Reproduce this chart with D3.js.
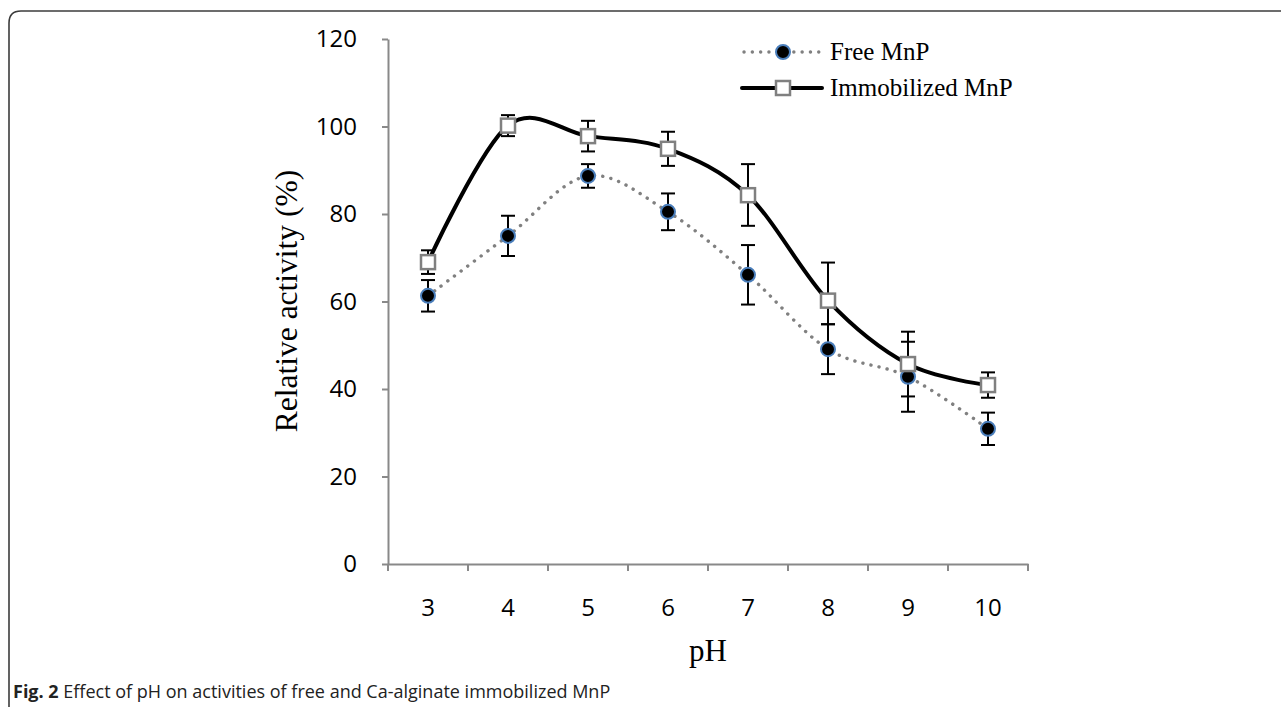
<!DOCTYPE html>
<html>
<head>
<meta charset="utf-8">
<script src="https://cdn.jsdelivr.net/npm/d3@7"></script>
<style>
  html, body { margin: 0; padding: 0; background: #fff; }
  svg { display: block; }
</style>
</head>
<body>
<svg id="chart" width="1281" height="707"></svg>
<script>
// ---- Data ----
const pHValues = [3, 4, 5, 6, 7, 8, 9, 10];
const freeActivity = [61.3, 75.0, 88.7, 80.5, 66.1, 49.1, 42.8, 30.9];
const freeError = [3.6, 4.6, 2.7, 4.2, 6.8, 5.7, 8.0, 3.7];
const immActivity = [69.0, 100.2, 97.8, 94.9, 84.3, 60.2, 45.7, 40.9];
const immErrorPlus = [2.7, 2.4, 3.5, 3.9, 7.1, 8.7, 7.4, 2.9];
const immErrorMinus = [2.7, 2.4, 3.5, 3.9, 7.0, 5.4, 7.4, 2.9];
const yTicks = [0, 20, 40, 60, 80, 100, 120];
const seriesNames = ["Free MnP", "Immobilized MnP"];
const yTitle = "Relative activity (%)";
const xTitle = "pH";
const captionBold = "Fig. 2";
const captionText = " Effect of pH on activities of free and Ca-alginate immobilized MnP";

// ---- Layout ----
const svg = d3.select("#chart");
const plot = { left: 388, right: 1028, top: 39, bottom: 564 };
const axisColor = "#898989";

const x = d3.scaleBand().domain(pHValues).range([plot.left, plot.right]).padding(0);
const y = d3.scaleLinear().domain([0, 120]).range([plot.bottom, plot.top]);
const cx = d => x(d) + x.bandwidth() / 2;

// Frame
svg.append("path")
  .attr("d", `M9,715 L9,23 Q9,11 21,11 L1290,11`)
  .attr("fill", "none").attr("stroke", "#3c3c3c").attr("stroke-width", 1.6);

// Y axis
const yAxis = svg.append("g")
  .attr("transform", `translate(${plot.left},0)`)
  .call(d3.axisLeft(y).tickValues(yTicks).tickSize(6).tickPadding(25).tickSizeOuter(0));
yAxis.select(".domain").attr("stroke", axisColor).attr("stroke-width", 2);
yAxis.selectAll(".tick line").attr("stroke", axisColor).attr("stroke-width", 2);
yAxis.selectAll(".tick text")
  .attr("font-family", "'Open Sans', sans-serif").attr("font-size", 24).attr("fill", "#000");

// X axis
const xAxis = svg.append("g")
  .attr("transform", `translate(0,${plot.bottom})`)
  .call(d3.axisBottom(x).tickSize(0).tickSizeOuter(0));
xAxis.select(".domain").attr("stroke", axisColor).attr("stroke-width", 2);
xAxis.selectAll(".tick text")
  .attr("y", 35).attr("dy", "0.71em")
  .attr("font-family", "'Open Sans', sans-serif").attr("font-size", 24).attr("fill", "#000");
// boundary ticks
const boundaries = pHValues.map(d => x(d)).concat([x.range()[1]]);
xAxis.selectAll("line.bt").data(boundaries).enter().append("line")
  .attr("class", "bt")
  .attr("x1", d => d).attr("x2", d => d).attr("y1", 0).attr("y2", 7)
  .attr("stroke", axisColor).attr("stroke-width", 2);

// Axis titles
svg.append("text")
  .attr("transform", `translate(297,301) rotate(-90)`)
  .attr("text-anchor", "middle")
  .attr("font-family", "'Liberation Serif', 'Times New Roman', serif")
  .attr("font-size", 31.5).attr("fill", "#000")
  .text(yTitle);
svg.append("text")
  .attr("x", (plot.left + plot.right) / 2).attr("y", 661)
  .attr("text-anchor", "middle")
  .attr("font-family", "'Liberation Serif', 'Times New Roman', serif")
  .attr("font-size", 31).attr("fill", "#000")
  .text(xTitle);

// Lines
const line = d3.line().curve(d3.curveCardinal.tension(0));
const immPts = pHValues.map((d, i) => [cx(d), y(immActivity[i])]);
const freePts = pHValues.map((d, i) => [cx(d), y(freeActivity[i])]);

svg.append("path").attr("d", line(immPts))
  .attr("fill", "none").attr("stroke", "#000").attr("stroke-width", 4);
svg.append("path").attr("d", line(freePts))
  .attr("fill", "none").attr("stroke", "#808080").attr("stroke-width", 3.4)
  .attr("stroke-linecap", "round").attr("stroke-dasharray", "0.1 8.2");

// Error bars
const capW = 7;
function errBars(vals, plus, minus) {
  const g = svg.append("g").attr("stroke", "#000").attr("stroke-width", 2).attr("fill", "none");
  pHValues.forEach((d, i) => {
    const xx = cx(d), top = y(vals[i] + plus[i]), bot = y(vals[i] - minus[i]);
    g.append("line").attr("x1", xx).attr("x2", xx).attr("y1", top).attr("y2", bot);
    g.append("line").attr("x1", xx - capW).attr("x2", xx + capW).attr("y1", top).attr("y2", top);
    g.append("line").attr("x1", xx - capW).attr("x2", xx + capW).attr("y1", bot).attr("y2", bot);
  });
}
errBars(immActivity, immErrorPlus, immErrorMinus);
errBars(freeActivity, freeError, freeError);

// Markers
function circleMarker(sel) {
  sel.attr("r", 7).attr("fill", "#000").attr("stroke", "#4a7ebb").attr("stroke-width", 2);
}
function squareMarker(sel) {
  sel.attr("width", 14).attr("height", 14).attr("fill", "#fff")
    .attr("stroke", "#808080").attr("stroke-width", 2.5);
}
svg.append("g").selectAll("circle").data(pHValues).enter().append("circle")
  .attr("cx", d => cx(d)).attr("cy", (d, i) => y(freeActivity[i])).call(circleMarker);
svg.append("g").selectAll("rect").data(pHValues).enter().append("rect")
  .attr("x", d => cx(d) - 7).attr("y", (d, i) => y(immActivity[i]) - 7).call(squareMarker);

// Legend
const lg = svg.append("g");
const legendFont = "'Liberation Serif', 'Times New Roman', serif";
// Free
lg.append("line").attr("x1", 744).attr("x2", 821).attr("y1", 52).attr("y2", 52)
  .attr("stroke", "#808080").attr("stroke-width", 3.4).attr("stroke-linecap", "round")
  .attr("stroke-dasharray", "0.1 8.2");
lg.append("circle").attr("cx", 783).attr("cy", 52).call(circleMarker);
lg.append("text").attr("x", 830).attr("y", 60).attr("font-family", legendFont)
  .attr("font-size", 25).attr("fill", "#000").text(seriesNames[0]);
// Immobilized
lg.append("line").attr("x1", 742).attr("x2", 822).attr("y1", 88).attr("y2", 88)
  .attr("stroke", "#000").attr("stroke-width", 4).attr("stroke-linecap", "round");
lg.append("rect").attr("x", 776).attr("y", 81).call(squareMarker);
lg.append("text").attr("x", 830).attr("y", 96).attr("font-family", legendFont)
  .attr("font-size", 25).attr("fill", "#000").text(seriesNames[1]);

// Caption
const cap = svg.append("text").attr("x", 13).attr("y", 698)
  .attr("font-family", "'Open Sans', sans-serif").attr("font-size", 18).attr("fill", "#222");
cap.append("tspan").attr("font-weight", "bold").text(captionBold);
cap.append("tspan").text(captionText);
</script>
</body>
</html>
